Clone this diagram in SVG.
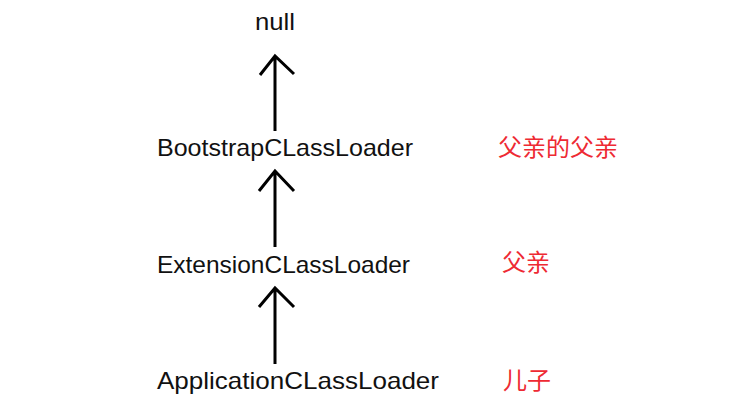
<svg xmlns="http://www.w3.org/2000/svg" width="731" height="408" viewBox="0 0 731 408">
<style>
.n{font-family:"Liberation Sans","DejaVu Sans",sans-serif;font-size:24px;fill:#111}
.r{font-family:"Noto Sans CJK SC","Noto Sans",sans-serif;font-size:24px;fill:#ee2a33}
.c{stroke:#000;stroke-width:3;fill:none;stroke-linecap:butt;stroke-linejoin:miter}
</style>
<rect width="731" height="408" fill="#fff"/>
<g id="null"><text class="n" x="255" y="30" textLength="40" lengthAdjust="spacingAndGlyphs">null</text></g>
<g id="bootstrap"><text class="n" x="157" y="156" textLength="256" lengthAdjust="spacingAndGlyphs">BootstrapCLassLoader</text></g>
<g id="extension"><text class="n" x="157" y="273" textLength="253" lengthAdjust="spacingAndGlyphs">ExtensionCLassLoader</text></g>
<g id="application"><text class="n" x="157" y="389" textLength="282" lengthAdjust="spacingAndGlyphs">ApplicationCLassLoader</text></g>
<g id="label-grandparent"><text class="r" x="498" y="156">父亲的父亲</text></g>
<g id="label-parent"><text class="r" x="502" y="271">父亲</text></g>
<g id="label-child"><text class="r" x="503" y="389">儿子</text></g>
<g id="connectors">
<path class="c" d="M275 131V56M260 75L275 56L294 74"/>
<path class="c" d="M275 247V171M259 191L275 171L294 191"/>
<path class="c" d="M275 364V288M259 307L275 288L294 307"/>
</g>
</svg>
